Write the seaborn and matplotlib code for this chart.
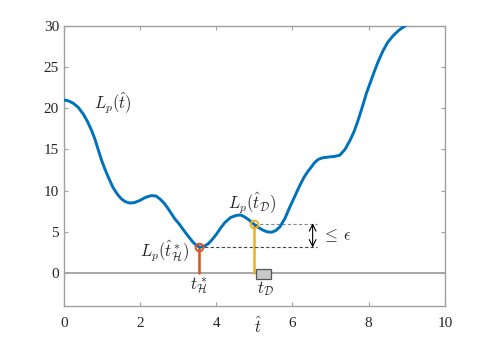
#!/usr/bin/env python3

"""Loss curve L_p(t) with the two marked candidate times."""

import pandas as pd
import seaborn as sns
import matplotlib.pyplot as plt
from matplotlib.patches import Rectangle

# DATA
t_hat = [0.00, 0.12, 0.25, 0.38, 0.51, 0.62, 0.73, 0.82, 0.90, 0.99, 1.08, 1.18, 1.29,
         1.40, 1.51, 1.62, 1.73, 1.85, 1.99, 2.15, 2.30, 2.42, 2.52, 2.63, 2.74, 2.91,
         3.02, 3.13, 3.26, 3.39, 3.48, 3.57, 3.66, 3.79, 3.90, 4.01, 4.12, 4.23, 4.38,
         4.53, 4.64, 4.75, 4.86, 4.97, 5.10, 5.23, 5.34, 5.45, 5.56, 5.67, 5.80, 5.93,
         6.06, 6.19, 6.30, 6.40, 6.50, 6.58, 6.68, 6.80, 6.90, 6.98, 7.10, 7.24, 7.38,
         7.51, 7.62, 7.72, 7.83, 7.94, 8.05, 8.16, 8.27, 8.38, 8.50, 8.64, 8.80, 8.99]
loss = [21.0, 20.9, 20.6, 20.1, 19.3, 18.4, 17.3, 16.2, 15.0, 13.7, 12.6, 11.5, 10.4,
        9.6, 9.0, 8.65, 8.5, 8.55, 8.8, 9.2, 9.4, 9.35, 9.0, 8.5, 7.8, 6.6,
        6.0, 5.3, 4.5, 3.75, 3.35, 3.15, 3.2, 3.55, 4.1, 4.75, 5.5, 6.15, 6.75,
        7.0, 7.05, 6.8, 6.45, 6.0, 5.55, 5.2, 5.0, 4.95, 5.15, 5.6, 6.6, 8.0,
        9.3, 10.6, 11.6, 12.3, 12.9, 13.4, 13.8, 14.0, 14.05, 14.1, 14.15, 14.3, 15.0,
        16.1, 17.2, 18.5, 20.1, 21.8, 23.2, 24.6, 25.9, 27.0, 28.0, 28.8, 29.5, 30.1]

t_H, L_H = 3.55, 3.15     # best hypothesis
t_D, L_D = 4.99, 6.0      # data estimate
box_D = (5.05, 5.45, -0.75, 0.45)   # interval marker for t_D

x_ticks = [0, 2, 4, 6, 8, 10]
y_ticks = [0, 5, 10, 15, 20, 25, 30]

# STYLE
sns.set_theme(style="white")
plt.rcParams['font.family'] = ['Liberation Serif', 'DejaVu Serif']
plt.rcParams['mathtext.fontset'] = 'cm'

blue, orange, yellow = "#0072BD", "#D95319", "#EDB120"
grey = "#a0a0a0"

fig = plt.figure(figsize=(4.91, 3.45), dpi=100)
ax = fig.add_axes([0.130, 0.113, 0.776, 0.812])

df = pd.DataFrame({"t": t_hat, "L": loss})

# zero line
ax.axhline(0, color=grey, lw=1.3, zorder=1)

# main curve
sns.lineplot(data=df, x="t", y="L", ax=ax, color=blue, lw=2.1, zorder=3)

# stems
ax.plot([t_H, t_H], [0, L_H], color=orange, lw=1.8, zorder=2)
ax.plot([t_D, t_D], [0, L_D], color=yellow, lw=1.8, zorder=2)
ax.plot(t_H, L_H, "o", mfc="none", mec=orange, mew=1.4, ms=5.5, zorder=4)
ax.plot(t_D, L_D, "o", mfc="none", mec=yellow, mew=1.4, ms=5.5, zorder=4)

# rectangle for t_D
x0, x1, y0, y1 = box_D
ax.add_patch(Rectangle((x0, y0), x1 - x0, y1 - y0, fc="#c8c8c8", ec="#555555", lw=0.9, zorder=3))

# dashed level lines
ax.plot([t_H, 6.64], [L_H, L_H], ls=(0, (3, 2)), color="#444444", lw=0.8, zorder=2)
ax.plot([t_D, 6.64], [L_D, L_D], ls=(0, (3, 2)), color="#888888", lw=0.8, zorder=2)
ax.annotate("", xy=(6.53, L_H - 0.05), xytext=(6.53, L_D + 0.05),
            arrowprops=dict(arrowstyle="<->", color="black", lw=0.8, shrinkA=0, shrinkB=0))

# labels
ax.text(6.78, 4.6, r"$\leq\,\epsilon$", fontsize=12, va="center", ha="left")
ax.text(0.78, 20.6, r"$L_p(\hat{t})$", fontsize=12, va="center", ha="left")
ax.text(4.95, 8.5, r"$L_p(\hat{t}_{\mathcal{D}})$", fontsize=12, va="center", ha="center")
ax.text(3.3, 2.6, r"$L_p(\hat{t}^*_{\mathcal{H}})$", fontsize=12, va="center", ha="right")
ax.text(3.55, -1.6, r"$t^*_{\mathcal{H}}$", fontsize=12, va="center", ha="center")
ax.text(5.3, -1.85, r"$t_{\mathcal{D}}$", fontsize=12, va="center", ha="center")

# axes formatting
ax.set_xlim(0, 10)
ax.set_ylim(-4, 30)
ax.set_xticks(x_ticks)
ax.set_yticks(y_ticks)
ax.set_xlabel(r"$\hat{t}$", fontsize=12)
ax.xaxis.label.set_va("center")
ax.xaxis.set_label_coords(0.509, -0.075)
ax.set_ylabel("")
for s in ax.spines.values():
    s.set_color(grey)
    s.set_linewidth(1.0)
ax.tick_params(direction="in", length=3, width=0.8, color=grey, labelsize=11,
               top=True, right=True, bottom=True, left=True, labelcolor="#262626")
ax.tick_params(axis="x", pad=8)

plt.savefig("out.png", dpi=100)
